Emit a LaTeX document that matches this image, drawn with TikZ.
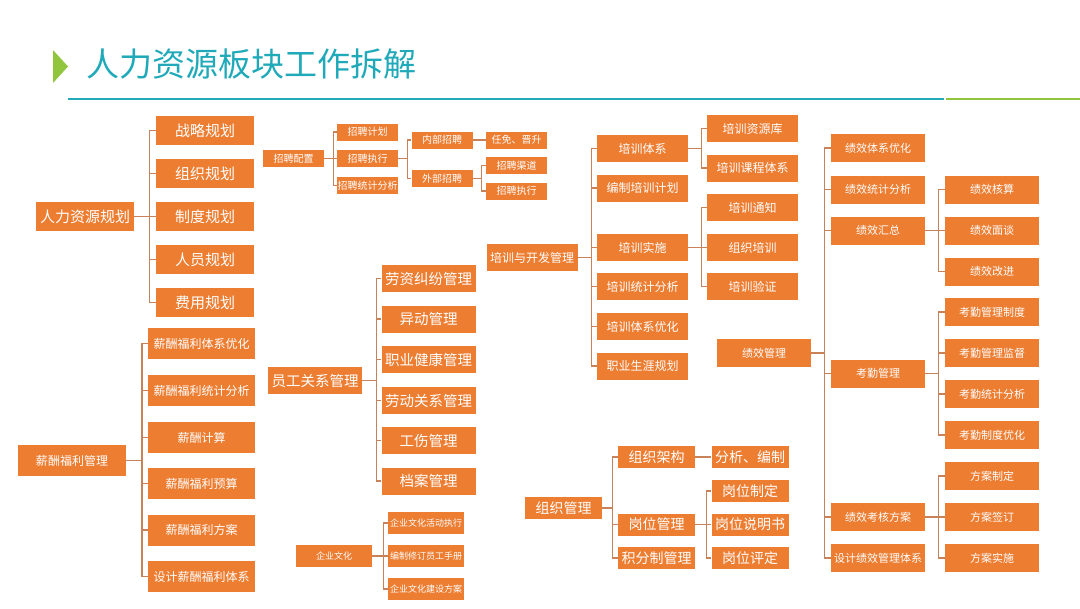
\documentclass[tikz,border=0pt]{standalone}
\usepackage{fontspec}
\setmainfont{Noto Sans CJK SC}
\usepackage{xcolor}
\definecolor{naranja}{HTML}{ED7D31}
\definecolor{rama}{HTML}{C8825A}
\definecolor{turquesa}{HTML}{1FA9B9}
\definecolor{verde}{HTML}{92C53E}
\newcommand\tam[1]{\fontsize{\fpeval{#1*0.75}pt}{\fpeval{#1*0.9}pt}\selectfont}

\begin{document}
\begin{tikzpicture}[x=0.75pt, y=-0.75pt,
  caja/.style={fill=naranja, text=white, inner sep=0pt},
  linea/.style={draw=rama, line width=0.9pt},
  plan/.style={caja, minimum width=73.5pt, minimum height=21.75pt, font=\tam{15}},
  zp/.style={caja, minimum width=45.75pt, minimum height=12.75pt, font=\tam{10}},
  px/.style={caja, minimum width=68.25pt, minimum height=20.25pt, font=\tam{12}},
  jx/.style={caja, minimum width=70.5pt, minimum height=21pt, font=\tam{11}},
  xc/.style={caja, minimum width=80.5pt, minimum height=23.25pt, font=\tam{12}},
  yg/.style={caja, minimum width=70.5pt, minimum height=20.25pt, font=\tam{14.5}},
  qy/.style={caja, minimum width=57pt, minimum height=16.5pt, font=\tam{9}},
  zz/.style={caja, minimum width=57.75pt, minimum height=16.5pt, font=\tam{14}}]
  \useasboundingbox (0,0) rectangle (1080,608);
  % titulo
  \fill[verde] (53,50) -- (68,66.5) -- (53,83) -- cycle;
  \node[anchor=west, inner sep=0pt, text=turquesa, font=\tam{33}] (titulo) at (86,64) {人力资源板块工作拆解};
  \draw[turquesa, line width=1.2pt] (68,99) -- (944,99);
  \draw[verde, line width=1.2pt] (946,99) -- (1080,99);

  % 人力资源规划
  \node[plan] (hrp) at (85,216.5) {人力资源规划};
  \foreach \t/\y [count=\i] in {战略规划/130.5,组织规划/173.5,制度规划/216.5,人员规划/259.5,费用规划/302.5}{
    \node[plan] (hrp\i) at (205,\y) {\t};
    \draw[linea] (hrp.east) -- ++(15,0) |- (hrp\i.west);
  }

  % 招聘配置
  \node[zp] (zp) at (293.5,158.5) {招聘配置};
  \foreach \t/\y [count=\i] in {招聘计划/132,招聘执行/158.5,招聘统计分析/185.5}{
    \node[zp] (zp\i) at (367.5,\y) {\t};
    \draw[linea] (zp.east) -- ++(9,0) |- (zp\i.west);
  }
  \node[zp] (nb) at (442,140) {内部招聘};
  \node[zp] (wb) at (442,178.5) {外部招聘};
  \draw[linea] (zp2.east) -- ++(9,0) |- (nb.west);
  \draw[linea] (zp2.east) -- ++(9,0) |- (wb.west);
  \node[zp] (rm) at (516.5,140) {任免、晋升};
  \draw[linea] (nb) -- (rm);
  \foreach \t/\y [count=\i] in {招聘渠道/165.5,招聘执行/191}{
    \node[zp] (wb\i) at (516.5,\y) {\t};
    \draw[linea] (wb.east) -- ++(9,0) |- (wb\i.west);
  }

  % 培训与开发管理
  \node[px] (px) at (532,257.5) {培训与开发管理};
  \foreach \t/\y [count=\i] in {培训体系/148.5,编制培训计划/188,培训实施/247.5,培训统计分析/286.5,培训体系优化/326.5,职业生涯规划/366}{
    \node[px] (px\i) at (642.5,\y) {\t};
    \draw[linea] (px.east) -- ++(14,0) |- (px\i.west);
  }
  \foreach \t/\y [count=\i] in {培训资源库/128.5,培训课程体系/168}{
    \node[px] (tx\i) at (752.5,\y) {\t};
    \draw[linea] (px1.east) -- ++(13,0) |- (tx\i.west);
  }
  \foreach \t/\y [count=\i] in {培训通知/207.5,组织培训/247.5,培训验证/286.5}{
    \node[px] (ss\i) at (752.5,\y) {\t};
    \draw[linea] (px3.east) -- ++(13,0) |- (ss\i.west);
  }

  % 绩效管理
  \node[jx] (jx) at (764,353) {绩效管理};
  \foreach \t/\y [count=\i] in {绩效体系优化/148,绩效统计分析/189.5,绩效汇总/230.5,考勤管理/373.5,绩效考核方案/517,设计绩效管理体系/558}{
    \node[jx] (jx\i) at (878,\y) {\t};
    \draw[linea] (jx.east) -- ++(13,0) |- (jx\i.west);
  }
  \foreach \t/\y [count=\i] in {绩效核算/189.5,绩效面谈/230.5,绩效改进/271.5}{
    \node[jx] (hz\i) at (992,\y) {\t};
    \draw[linea] (jx3.east) -- ++(13,0) |- (hz\i.west);
  }
  \foreach \t/\y [count=\i] in {考勤管理制度/312,考勤管理监督/353,考勤统计分析/394,考勤制度优化/435}{
    \node[jx] (kq\i) at (992,\y) {\t};
    \draw[linea] (jx4.east) -- ++(13,0) |- (kq\i.west);
  }
  \foreach \t/\y [count=\i] in {方案制定/476,方案签订/517,方案实施/558}{
    \node[jx] (fa\i) at (992,\y) {\t};
    \draw[linea] (jx5.east) -- ++(13,0) |- (fa\i.west);
  }

  % 薪酬福利管理
  \node[xc] (xc) at (72,460.5) {薪酬福利管理};
  \foreach \t/\y [count=\i] in {薪酬福利体系优化/343.5,薪酬福利统计分析/390.5,薪酬计算/437.5,薪酬福利预算/483.5,薪酬福利方案/530,设计薪酬福利体系/576.5}{
    \node[xc] (xc\i) at (201.5,\y) {\t};
    \draw[linea] (xc.east) -- ++(16,0) |- (xc\i.west);
  }

  % 员工关系管理
  \node[yg] (yg) at (315,380.5) {员工关系管理};
  \foreach \t/\y [count=\i] in {劳资纠纷管理/278.5,异动管理/319,职业健康管理/359.5,劳动关系管理/400.5,工伤管理/440.5,档案管理/481}{
    \node[yg] (yg\i) at (428.5,\y) {\t};
    \draw[linea] (yg.east) -- ++(14,0) |- (yg\i.west);
  }

  % 企业文化
  \node[qy] (qy) at (334,556) {企业文化};
  \foreach \t/\y [count=\i] in {企业文化活动执行/523,编制修订员工手册/556,企业文化建设方案/589}{
    \node[qy] (qy\i) at (426,\y) {\t};
    \draw[linea] (qy.east) -- ++(11,0) |- (qy\i.west);
  }

  % 组织管理
  \node[zz] (zz) at (563.5,508) {组织管理};
  \foreach \t/\y [count=\i] in {组织架构/457,岗位管理/524.5,积分制管理/558}{
    \node[zz] (zz\i) at (656.5,\y) {\t};
    \draw[linea] (zz.east) -- ++(10,0) |- (zz\i.west);
  }
  \node[zz] (fx) at (750,457) {分析、编制};
  \draw[linea] (zz1) -- (fx);
  \foreach \t/\y [count=\i] in {岗位制定/491,岗位说明书/524.5,岗位评定/558}{
    \node[zz] (gw\i) at (750,\y) {\t};
    \draw[linea] (zz2.east) -- ++(11,0) |- (gw\i.west);
  }
\end{tikzpicture}
\end{document}
